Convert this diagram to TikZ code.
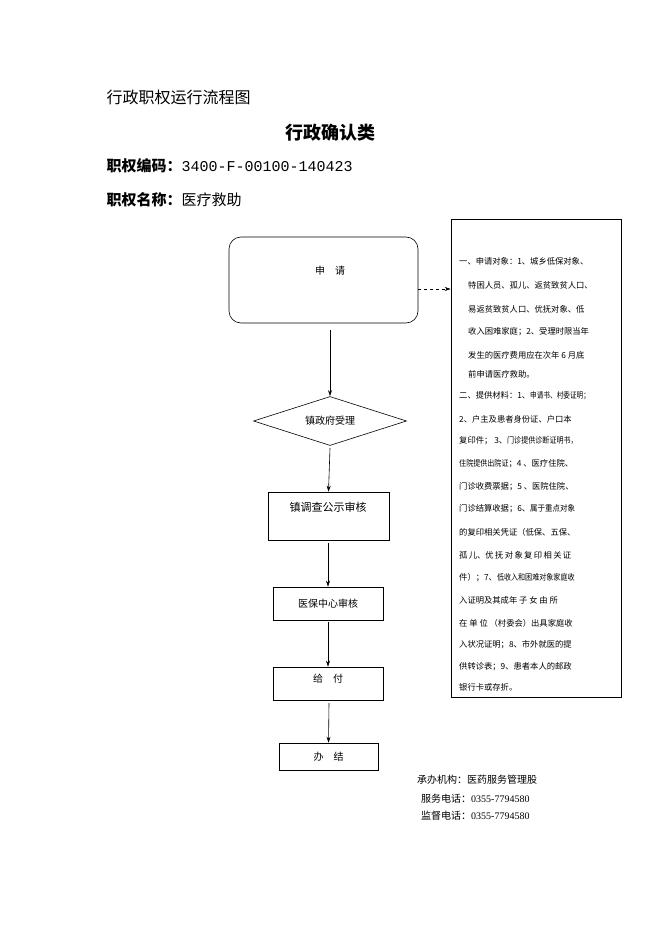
\documentclass[tikz,border=0pt]{standalone}
\usepackage{fontspec}
\setmainfont{Liberation Serif}
\newfontfamily\cjk{Noto Sans CJK SC}
\usetikzlibrary{shapes.geometric,arrows.meta}
\begin{document}
\begin{tikzpicture}[x=1pt,y=-1pt,
  box/.style={draw,line width=0.6pt,inner sep=0},
  arr/.style={-{Stealth[length=6pt,width=4pt]},line width=0.6pt},
  ln/.style={anchor=west,font=\cjk\fontsize{8.3}{9}\selectfont,inner sep=0}]
\useasboundingbox (0,0) rectangle (662,936);
\node[anchor=west,font=\cjk\fontsize{16}{18}\selectfont] (t1) at (103,97) {行政职权运行流程图};
\node[font=\cjk\bfseries\fontsize{18}{20}\selectfont] (t2) at (330,133) {行政确认类};
\node[anchor=west,font=\fontsize{15}{17}\selectfont] (t3) at (103,166) {{\cjk\bfseries 职权编码：}\texttt{\fontspec{Liberation Mono}3400-F-00100-140423}};
\node[anchor=west,font=\fontsize{15}{17}\selectfont] (t4) at (103,200) {{\cjk\bfseries 职权名称：}{\cjk 医疗救助}};
% flow
\node[box,rounded corners=12pt,minimum width=189pt,minimum height=86pt] (a) at (323.5,280) {};
\node[font=\cjk\fontsize{10}{12}\selectfont] (at) at (330,271) {申\quad 请};
\node[draw,line width=0.6pt,diamond,aspect=3.1,minimum width=153pt,minimum height=49pt,inner sep=0,font=\cjk\fontsize{10}{12}\selectfont] (b) at (330,421) {镇政府受理};
\node[box,minimum width=121pt,minimum height=48pt] (c) at (328.5,516) {};
\node[font=\cjk\fontsize{11}{13}\selectfont] (ct) at (328,507) {镇调查公示审核};
\node[box,minimum width=110pt,minimum height=33pt,font=\cjk\fontsize{10}{12}\selectfont] (d) at (328,603.5) {医保中心审核};
\node[box,minimum width=110pt,minimum height=33pt] (e) at (328,683.5) {};
\node[font=\cjk\fontsize{10}{12}\selectfont] (et) at (328,679) {给\quad 付};
\node[box,minimum width=99pt,minimum height=27pt,font=\cjk\fontsize{10}{12}\selectfont] (f) at (328.5,756.5) {办\quad 结};
\coordinate (a1) at (330,330);
\coordinate (b1) at (330,448);
\coordinate (c1) at (328,543);
\coordinate (d1) at (328,622);
\coordinate (e1) at (329,703);
\draw[arr] (a1) -- (b.north);
\draw[arr] (b1) -- (c.north);
\draw[arr] (c1) -- (d.north);
\draw[arr] (d1) -- (e.north);
\draw[arr] (e1) -- (f.north);
% side box
\node[box,minimum width=170pt,minimum height=478pt] (g) at (536,458) {};
\coordinate (a2) at (418,289);
\draw[arr,dashed] (a2) -- (g.west |- a2);
\node[ln] at (459,261) {一、申请对象：1、城乡低保对象、};
\node[ln] at (468,285) {特困人员、孤儿、返贫致贫人口、};
\node[ln] at (468,309) {易返贫致贫人口、优抚对象、低};
\node[ln] at (468,332) {收入困难家庭；2、受理时限当年};
\node[ln] at (468,355) {发生的医疗费用应在次年 6 月底};
\node[ln] at (468,374) {前申请医疗救助。};
\node[ln] at (459,396) {二、提供材料：1、\scalebox{0.8}[1]{申请书、村委证明；}};
\node[ln] at (459,419) {2、户主及患者身份证、户口本};
\node[ln] at (459,441) {复印件； 3、\scalebox{0.85}[1]{门诊提供诊断证明书，}};
\node[ln] at (459,464) {\scalebox{0.85}[1]{住院提供出院证}；4 、医疗住院、};
\node[ln] at (459,487) {门诊收费票据；5 、医院住院、};
\node[ln] at (459,509) {门诊结算收据；6、\scalebox{0.9}[1]{属于重点对象}};
\node[ln] at (459,532) {的复印相关凭证（低保、五保、};
\node[ln] at (459,555) {孤\,儿、优\,抚\,对\,象\,复\,印\,相\,关\,证};
\node[ln] at (459,578) {件）；7、\scalebox{0.85}[1]{低收入和困难对象家庭收}};
\node[ln] at (459,600) {入证明及其成年\ 子\ 女\ 由\ 所};
\node[ln] at (459,623) {在\ 单\ 位\ （村委会）出具家庭收};
\node[ln] at (459,645) {入状况证明；8、市外就医的提};
\node[ln] at (459,667) {供转诊表；9、患者本人的邮政};
\node[ln] at (459,687) {银行卡或存折。};
% footer
\node[anchor=west,font=\fontsize{10}{12}\selectfont,inner sep=0] (h1) at (417,780) {{\cjk 承办机构：医药服务管理股}};
\node[anchor=west,font=\fontsize{10}{12}\selectfont,inner sep=0] (h2) at (421,799) {{\cjk 服务电话：}0355-7794580};
\node[anchor=west,font=\fontsize{10}{12}\selectfont,inner sep=0] (h3) at (421,816) {{\cjk 监督电话：}0355-7794580};
\end{tikzpicture}
\end{document}
